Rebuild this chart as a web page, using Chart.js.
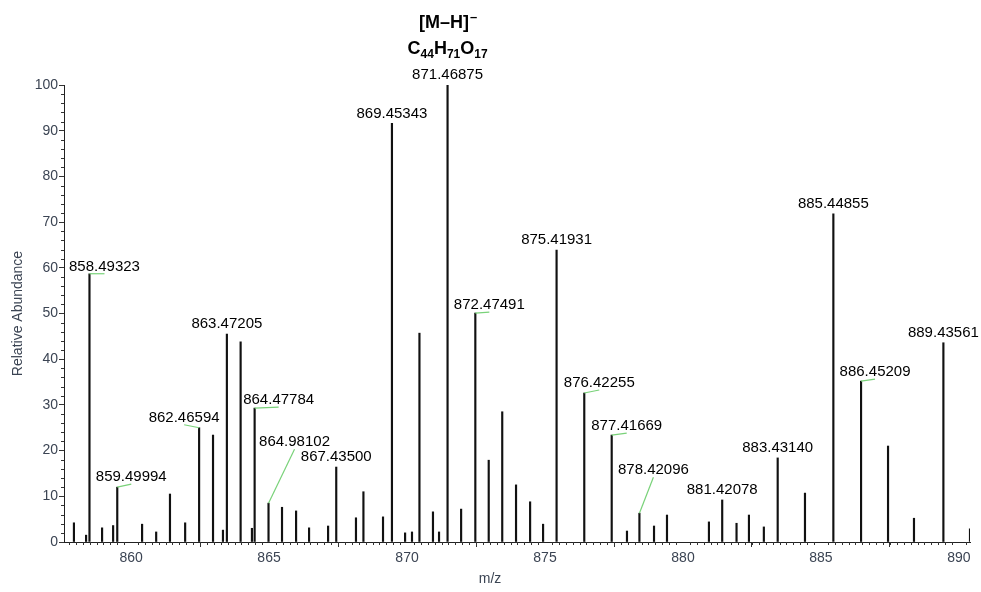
<!DOCTYPE html>
<html lang="en">
<head>
    <meta charset="UTF-8">
    <title>[M-H]- spectrum 858-890</title>
    <script src="https://cdn.jsdelivr.net/npm/chart.js@4.4.0/dist/chart.umd.min.js"></script>
    <style>
        html, body { margin: 0; padding: 0; background: #fff; }
        #wrap { position: relative; width: 981px; height: 592px; }
    </style>
</head>
<body>
    <div id="wrap"><canvas id="spectrum"></canvas></div>

    <script>
        // peak positions (m/z) and heights (relative abundance, %)
        const peakMz = [
            857.93, 858.37, 858.49323, 858.95, 859.35, 859.49994, 860.40, 860.91,
            861.41, 861.96, 862.46594, 862.97, 863.33, 863.47205, 863.97, 864.38,
            864.47784, 864.98102, 865.47, 865.98, 866.45, 867.14, 867.43500, 868.15,
            868.42, 869.13, 869.45343, 869.93, 870.18, 870.45, 870.94, 871.16,
            871.46875, 871.96, 872.47491, 872.96, 873.45, 873.95, 874.46, 874.93,
            875.41931, 876.42255, 877.41669, 877.97, 878.42096, 878.95, 879.42, 880.94,
            881.42078, 881.94, 882.39, 882.93, 883.43140, 884.42, 885.44855, 886.45209,
            887.43, 888.37, 889.43561, 890.40
        ];
        const peakAbund = [
            4.2, 1.5, 58.7, 3.1, 3.6, 12.0, 3.9, 2.2,
            10.5, 4.2, 25.0, 23.4, 2.6, 45.5, 43.8, 3.0,
            29.3, 8.5, 7.6, 6.8, 3.1, 3.5, 16.4, 5.3,
            11.0, 5.5, 91.6, 2.0, 2.2, 45.7, 6.6, 2.2,
            100, 7.2, 50.1, 17.9, 28.5, 12.5, 8.8, 3.9,
            63.9, 32.6, 23.4, 2.4, 6.3, 3.5, 5.9, 4.4,
            9.2, 4.1, 5.9, 3.3, 18.4, 10.7, 71.8, 35.2,
            21.0, 5.2, 43.6, 2.9
        ];

        // peaks that carry their m/z as a label
        const labelledPeaks = [
            '858.49323', '859.49994', '862.46594', '863.47205', '864.47784', '864.98102',
            '867.43500', '869.45343', '871.46875', '872.47491', '875.41931', '876.42255',
            '877.41669', '878.42096', '881.42078', '883.43140', '885.44855', '886.45209',
            '889.43561'
        ];

        // axis ticks
        const xTickValues = [860, 865, 870, 875, 880, 885, 890];
        const yTickValues = [0, 10, 20, 30, 40, 50, 60, 70, 80, 90, 100];
        const xTitle = 'm/z';

        // ion annotation over the base peak
        const ionLine = '[M\u2013H]';
        const ionFormula = [['C', '44'], ['H', '71'], ['O', '17']];
        const basePeak = 871.46875;

        const FONT = '"Liberation Sans", Arial, sans-serif';

        // label placement (text centre relative to the peak top, px); others sit straight above
        const labelShift = {
            '858.49323': [15, -7],
            '859.49994': [14, -10],
            '862.46594': [-15, -10],
            '864.47784': [24, -8],
            '864.98102': [26, -61],
            '872.47491': [14, -8],
            '876.42255': [15, -10],
            '877.41669': [15, -9],
            '878.42096': [14, -43],
            '886.45209': [14, -9]
        };

        // short minor ticks between the labelled ones
        const minorTicks = {
            id: 'minorTicks',
            afterDraw(chart) {
                const { ctx, scales: { x, y }, chartArea } = chart;
                ctx.save();
                ctx.strokeStyle = '#333';
                ctx.lineWidth = 1;
                ctx.beginPath();
                for (let v = Math.ceil(x.min * 4) / 4; v <= x.max; v += 0.25) {
                    if (Math.abs(v / 5 - Math.round(v / 5)) < 1e-6) continue;
                    const px = Math.round(x.getPixelForValue(v)) + 0.5;
                    ctx.moveTo(px, chartArea.bottom);
                    ctx.lineTo(px, chartArea.bottom + 3);
                }
                for (let v = 2; v < 100; v += 2) {
                    if (v % 10 === 0) continue;
                    const py = Math.round(y.getPixelForValue(v)) + 0.5;
                    ctx.moveTo(chartArea.left, py);
                    ctx.lineTo(chartArea.left - 3, py);
                }
                ctx.stroke();

                // x title sits a little left of centre in the original
                ctx.fillStyle = '#3b4453';
                ctx.font = '14px ' + FONT;
                ctx.textAlign = 'center';
                ctx.textBaseline = 'middle';
                ctx.fillText(xTitle, (chartArea.left + chartArea.right) / 2 - 27, 579);
                ctx.restore();
            }
        };

        // m/z labels, green leader lines and the ion annotation
        const peakLabels = {
            id: 'peakLabels',
            afterDatasetsDraw(chart) {
                const { ctx, scales: { x, y } } = chart;
                ctx.save();
                ctx.font = '15px ' + FONT;
                ctx.textAlign = 'center';
                ctx.textBaseline = 'middle';
                labelledPeaks.forEach(txt => {
                    const i = peakMz.indexOf(parseFloat(txt));
                    if (i < 0) return;
                    const px = x.getPixelForValue(peakMz[i]);
                    const py = y.getPixelForValue(peakAbund[i]);
                    const s = labelShift[txt] || [0, -10];
                    const tx = px + s[0], ty = py + s[1];
                    if (s[0] !== 0) {
                        ctx.strokeStyle = '#79d279';
                        ctx.lineWidth = 1.2;
                        ctx.beginPath();
                        ctx.moveTo(px, py);
                        ctx.lineTo(tx, ty + 7);
                        ctx.stroke();
                    }
                    ctx.fillStyle = '#000';
                    ctx.fillText(txt, tx, ty);
                });

                // ion name and formula above the base peak
                const cx = x.getPixelForValue(basePeak);
                ctx.font = 'bold 18px ' + FONT;
                const wIon = ctx.measureText(ionLine).width;
                ctx.font = 'bold 13px ' + FONT;
                const wSup = ctx.measureText('\u2013').width;
                let left = cx - (wIon + wSup) / 2;
                ctx.textAlign = 'left';
                ctx.textBaseline = 'alphabetic';
                ctx.font = 'bold 18px ' + FONT;
                ctx.fillText(ionLine, left, 28);
                ctx.font = 'bold 13px ' + FONT;
                ctx.fillText('\u2013', left + wIon + 1, 21);

                let total = 0;
                ionFormula.forEach(([el, n]) => {
                    ctx.font = 'bold 18px ' + FONT;
                    total += ctx.measureText(el).width;
                    ctx.font = 'bold 12px ' + FONT;
                    total += ctx.measureText(n).width;
                });
                left = cx - total / 2;
                ionFormula.forEach(([el, n]) => {
                    ctx.font = 'bold 18px ' + FONT;
                    ctx.fillText(el, left, 54);
                    left += ctx.measureText(el).width;
                    ctx.font = 'bold 12px ' + FONT;
                    ctx.fillText(n, left, 58);
                    left += ctx.measureText(n).width;
                });
                ctx.restore();
            }
        };

        new Chart(document.getElementById('spectrum'), {
            type: 'bar',
            data: {
                datasets: [{
                    data: peakMz.map((m, i) => ({ x: m, y: peakAbund[i] })),
                    backgroundColor: '#111',
                    barThickness: 1.5
                }]
            },
            options: {
                responsive: true,
                maintainAspectRatio: false,
                animation: false,
                layout: { padding: { top: 85, right: 11, left: 0, bottom: 0 } },
                plugins: {
                    legend: { display: false },
                    tooltip: { enabled: false }
                },
                scales: {
                    x: {
                        type: 'linear',
                        offset: false,
                        min: 857.57,
                        max: 890.40,
                        afterFit: s => { s.height = 50; },
                        afterBuildTicks: s => { s.ticks = xTickValues.map(v => ({ value: v })); },
                        grid: { drawOnChartArea: false, tickLength: 5, color: '#333' },
                        border: { color: '#222', width: 1 },
                        ticks: {
                            color: '#3b4453',
                            font: { family: FONT, size: 14 },
                            padding: 3,
                            maxRotation: 0
                        }
                    },
                    y: {
                        min: 0,
                        max: 100,
                        afterFit: s => { s.width = 64; },
                        afterBuildTicks: s => { s.ticks = yTickValues.map(v => ({ value: v })); },
                        grid: { drawOnChartArea: false, tickLength: 5, color: '#333' },
                        border: { color: '#222', width: 1 },
                        ticks: {
                            color: '#3b4453',
                            font: { family: FONT, size: 14 },
                            padding: 1
                        },
                        title: {
                            display: true,
                            text: 'Relative Abundance',
                            color: '#3b4453',
                            font: { family: FONT, size: 14 },
                            padding: { top: 10, bottom: 0 }
                        }
                    }
                }
            },
            plugins: [minorTicks, peakLabels]
        });
    </script>
</body>
</html>
